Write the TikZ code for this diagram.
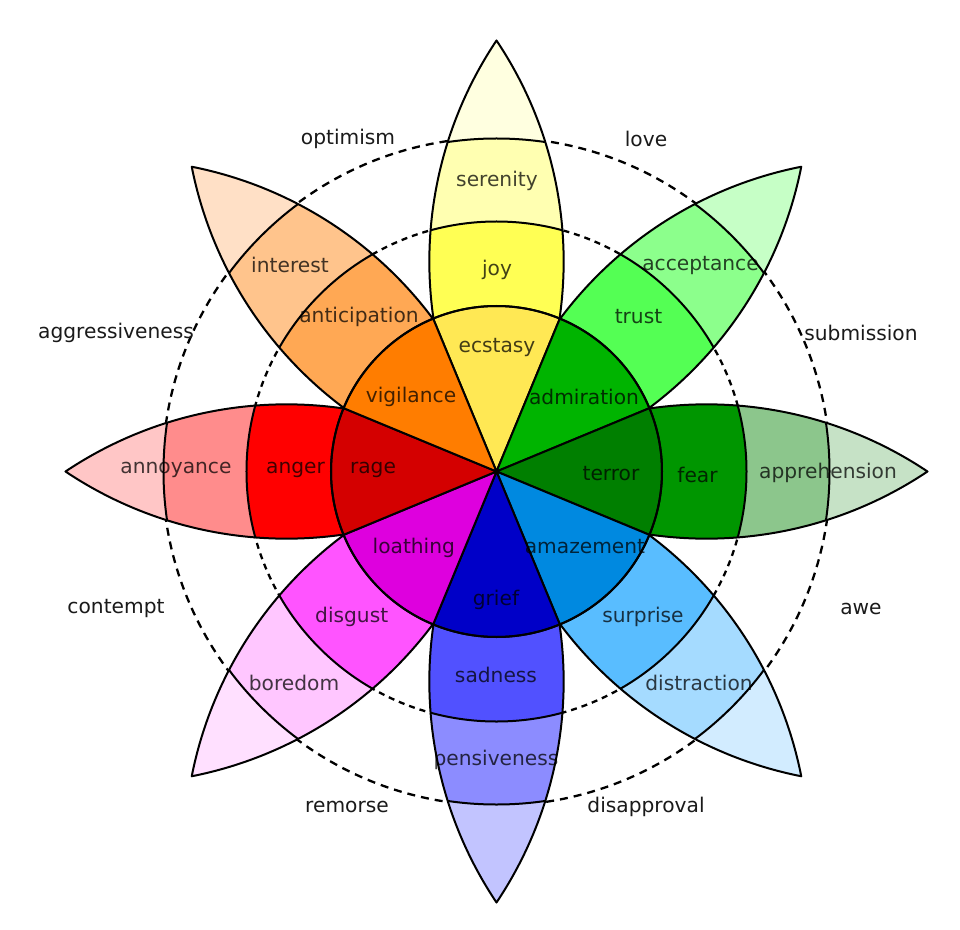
\documentclass[tikz,border=0pt]{standalone}
\usepackage{fontspec}
\setmainfont{DejaVu Sans}
\definecolor{joyT}{HTML}{FFFFE0}\definecolor{joyB}{HTML}{FFFFB1}\definecolor{joyA}{HTML}{FFFF54}\definecolor{joyW}{HTML}{FFE854}
\definecolor{truT}{HTML}{C6FFC6}\definecolor{truB}{HTML}{8CFF8C}\definecolor{truA}{HTML}{54FF54}\definecolor{truW}{HTML}{00B400}
\definecolor{feaT}{HTML}{C6E2C6}\definecolor{feaB}{HTML}{8CC68C}\definecolor{feaA}{HTML}{009600}\definecolor{feaW}{HTML}{007F00}
\definecolor{surT}{HTML}{D2ECFF}\definecolor{surB}{HTML}{A5DBFF}\definecolor{surA}{HTML}{59BDFF}\definecolor{surW}{HTML}{0089E0}
\definecolor{sadT}{HTML}{C2C4FF}\definecolor{sadB}{HTML}{8C8CFF}\definecolor{sadA}{HTML}{5151FF}\definecolor{sadW}{HTML}{0000C8}
\definecolor{disT}{HTML}{FFE0FF}\definecolor{disB}{HTML}{FFC6FF}\definecolor{disA}{HTML}{FF54FF}\definecolor{disW}{HTML}{DE00DE}
\definecolor{angT}{HTML}{FFC6C6}\definecolor{angB}{HTML}{FF8C8C}\definecolor{angA}{HTML}{FF0000}\definecolor{angW}{HTML}{D40000}
\definecolor{antT}{HTML}{FFE0C6}\definecolor{antB}{HTML}{FFC48C}\definecolor{antA}{HTML}{FFA854}\definecolor{antW}{HTML}{FF7D00}
\definecolor{outtext}{HTML}{1A1A1A}
\begin{document}
\begin{tikzpicture}[x=1pt,y=1pt,
  outline/.style={draw=black,line width=2pt,line join=round},
  dashinner/.style={draw=black,line width=2.3pt,dash pattern=on 6pt off 5pt},
  dashouter/.style={draw=black,line width=2.3pt,dash pattern=on 8pt off 6pt},
  lab/.style={font=\fontsize{20.2}{24}\selectfont,text=black,text opacity=0.74,inner sep=0pt},
  outlab/.style={font=\fontsize{20.2}{24}\selectfont,text=outtext,inner sep=0pt}]
\useasboundingbox (-496.5,-457.5) rectangle (463.5,471.5);
\fill[white] (-496.5,-457.5) rectangle (463.5,471.5);
% dashed circles
\draw[dashinner] (0,0) circle[radius=250];
\draw[dashouter] (0,0) circle[radius=334];
% petals
\foreach \a/\ct/\cb/\ca in {90/joyT/joyB/joyA,45/truT/truB/truA,0/feaT/feaB/feaA,-45/surT/surB/surA,-90/sadT/sadB/sadA,-135/disT/disB/disA,180/angT/angB/angA,135/antT/antB/antA}{
  \begin{scope}[rotate=\a]
    \fill[\ct] (431,0) arc[start angle=56.19,end angle=123.81,radius=397.2] arc[start angle=-123.81,end angle=-56.19,radius=397.2] -- cycle;
    \begin{scope}
      \clip (431,0) arc[start angle=56.19,end angle=123.81,radius=397.2] arc[start angle=-123.81,end angle=-56.19,radius=397.2] -- cycle;
      \fill[\cb] (0,0) circle[radius=333];
      \fill[\ca] (0,0) circle[radius=250];
      \draw[outline] (0,0) circle[radius=333];
      \draw[outline] (0,0) circle[radius=250];
    \end{scope}
    \draw[outline] (431,0) arc[start angle=56.19,end angle=123.81,radius=397.2] arc[start angle=-123.81,end angle=-56.19,radius=397.2] -- cycle;
  \end{scope}
}
% inner wedges
\foreach \a/\cw in {90/joyW,45/truW,0/feaW,-45/surW,-90/sadW,-135/disW,180/angW,135/antW}{
  \filldraw[fill=\cw,outline] (0,0) -- (\a-22.5:165.5) arc[start angle=\a-22.5,end angle=\a+22.5,radius=165.5] -- cycle;
}
\draw[outline] (0,0) circle[radius=165.5];
% petal labels
\node[lab] (serenity) at (0.5,290.5) {serenity};
\node[lab] (joy) at (0.5,201.5) {joy};
\node[lab] (ecstasy) at (0.5,123.5) {ecstasy};
\node[lab] (interest) at (-206.5,206.5) {interest};
\node[lab] (anticipation) at (-137.5,154.2) {anticipation};
\node[lab] (vigilance) at (-85.5,74.5) {vigilance};
\node[lab] (acceptance) at (204,205.5) {acceptance};
\node[lab] (trust) at (142,154.8) {trust};
\node[lab] (admiration) at (87.5,74.5) {admiration};
\node[lab] (annoyance) at (-320.5,1.5) {annoyance};
\node[lab] (anger) at (-201,1.5) {anger};
\node[lab] (rage) at (-123.5,1.5) {rage};
\node[lab] (terror) at (114.5,-2.5) {terror};
\node[lab] (fear) at (201,-3.5) {fear};
\node[lab] (apprehension) at (331.5,-1.5) {apprehension};
\node[lab] (loathing) at (-82.7,-76.8) {loathing};
\node[lab] (disgust) at (-144.8,-145.2) {disgust};
\node[lab] (boredom) at (-202.5,-211.2) {boredom};
\node[lab] (amazement) at (88.5,-75.2) {amazement};
\node[lab] (surprise) at (146.5,-145.2) {surprise};
\node[lab] (distraction) at (202.5,-211.2) {distraction};
\node[lab] (grief) at (-0.5,-128.5) {grief};
\node[lab] (sadness) at (-0.5,-203.5) {sadness};
\node[lab] (pensiveness) at (-0.5,-288.5) {pensiveness};
% outer labels
\node[outlab] (optimism) at (-148.5,332.5) {optimism};
\node[outlab] (love) at (149.5,332.5) {love};
\node[outlab] (aggressiveness) at (-380.5,138.5) {aggressiveness};
\node[outlab] (submission) at (364.5,138.5) {submission};
\node[outlab] (contempt) at (-380.5,-137.5) {contempt};
\node[outlab] (awe) at (364.5,-137.5) {awe};
\node[outlab] (remorse) at (-149.5,-335.5) {remorse};
\node[outlab] (disapproval) at (149.5,-335.5) {disapproval};
\end{tikzpicture}
\end{document}
